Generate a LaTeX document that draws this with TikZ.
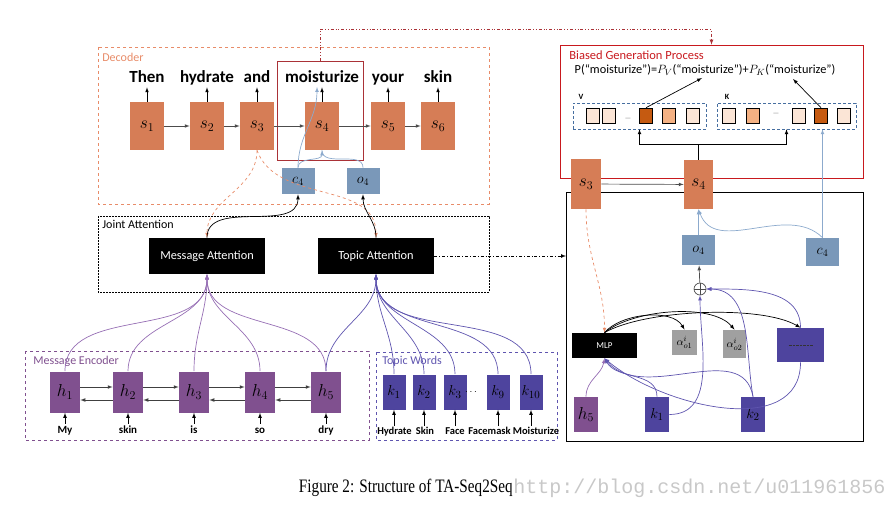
\documentclass[tikz,border=0pt]{standalone}
\usepackage{graphicx}
\usepackage{fontspec}
\setmainfont{Carlito}
\newfontfamily\capfont{Liberation Serif}
\newfontfamily\wmfont{Liberation Mono}
\usetikzlibrary{positioning,calc}

\definecolor{sorange}{RGB}{214,125,86}
\definecolor{cblue}{RGB}{122,152,185}
\definecolor{hpurple}{RGB}{128,80,143}
\definecolor{kblue}{RGB}{78,68,158}
\definecolor{decline}{RGB}{232,140,105}
\definecolor{boxred}{RGB}{170,50,55}
\definecolor{bgpred}{RGB}{200,25,30}
\definecolor{lineblue}{RGB}{140,170,205}
\definecolor{linepurple}{RGB}{150,110,180}
\definecolor{lineviolet}{RGB}{95,85,175}
\definecolor{sqlight}{RGB}{251,229,214}
\definecolor{sqmid}{RGB}{244,177,131}
\definecolor{sqdark}{RGB}{197,90,17}
\definecolor{dashblue}{RGB}{70,110,160}
\definecolor{agray}{RGB}{160,160,160}
\definecolor{wmgray}{RGB}{200,200,200}

\tikzset{
  sbox/.style={fill=sorange, minimum width=34pt, minimum height=48pt, inner sep=0pt, font=\fontsize{18}{18}\selectfont},
  cbox/.style={fill=cblue, minimum width=33pt, minimum height=26pt, inner sep=0pt, font=\fontsize{14}{14}\selectfont},
  hbox/.style={fill=hpurple, minimum width=30pt, minimum height=41pt, inner sep=0pt, font=\fontsize{17}{17}\selectfont},
  kbox/.style={fill=kblue, minimum width=23pt, minimum height=35pt, inner sep=0pt, font=\fontsize{15}{15}\selectfont},
  attbox/.style={fill=black, text=white, minimum width=116pt, minimum height=36pt, font=\fontsize{12.3}{12.3}\selectfont},
  word/.style={anchor=base, text depth=4pt, inner sep=0pt, font=\bfseries\fontsize{17}{17}\selectfont},
  inword/.style={text height=8pt, text depth=2pt, inner sep=1pt, font=\bfseries\fontsize{11}{11}\selectfont},
  tword/.style={text height=7pt, text depth=2pt, inner sep=1pt, font=\bfseries\fontsize{10.5}{10.5}\selectfont},
  grouplabel/.style={anchor=west, inner sep=0pt, font=\fontsize{12}{12}\selectfont},
  vkbox/.style={draw=dashblue, densely dashed, line width=0.6pt, minimum width=#1, minimum height=26pt},
  sq/.style={draw=black, line width=0.6pt, minimum width=13pt, minimum height=15pt, inner sep=0pt},
  abox/.style={fill=agray, minimum width=25pt, minimum height=25pt, inner sep=0pt, font=\fontsize{11}{11}\selectfont},
  oplus/.style={draw, circle, minimum size=12pt, inner sep=0pt,
    path picture={\draw (path picture bounding box.north) -- (path picture bounding box.south)
      (path picture bounding box.west) -- (path picture bounding box.east);}},
  bline/.style={lineblue},
  pline/.style={linepurple},
  vline/.style={lineviolet},
  odash/.style={decline, dashed},
}

\begin{document}
\begin{tikzpicture}[x=1pt,y=1pt,>=latex,line width=0.7pt]
\useasboundingbox (0,0) rectangle (893,-508);

% decoder
\draw[decline,dashed] (98,-47) rectangle (489,-204);
\node[grouplabel,text=decline] at (102,-57) {Decoder};
\node[draw=boxred,minimum width=86pt,minimum height=99pt] (rbox) at (320,-110.5) {};
\foreach \i/\x/\w in {1/147/Then,2/207/hydrate,3/257/and,4/322/moisturize,5/388/your,6/438/skin}{
  \node[sbox] (s\i) at (\x,-126) {$s_{\i}$};
  \node[word] (w\i) at (\x,-83) {\w};
  \draw[->] (s\i.north) -- (w\i.south);
}
\foreach \a/\b in {1/2,2/3,3/4,4/5,5/6}
  \draw[->,black!70] (s\a) -- (s\b);
\node[cbox] (c4) at (298,-181) {$c_4$};
\node[cbox] (o4) at (363,-181) {$o_4$};
\coordinate (m4) at (317,-87);
\draw[bline,->] (c4.north) to[out=90,in=-90] (m4);
\draw[bline,->] (c4.north) to[out=90,in=-90] (s4.south);
\draw[bline] (o4.north) to[out=90,in=-90] (s4.south);

% joint attention
\draw[dash pattern=on 2pt off 1pt] (98,-216) rectangle (489,-292);
\node[grouplabel] at (102,-224) {Joint Attention};
\node[attbox] (ma) at (207,-256) {Message Attention};
\node[attbox] (ta) at (376,-256) {Topic Attention};
\draw[odash,->] (s3.south) to[out=-90,in=90] (ma.north);
\draw[odash,->] (s3.south) to[out=-70,in=90] (ta.north);
\draw[->] (ma.north) to[out=90,in=-90] (c4.south);
\draw[->] (ta.north) to[out=90,in=-90] (o4.south);

% message encoder
\draw[hpurple,dashed] (25,-351) rectangle (369,-440);
\node[grouplabel,text=hpurple] at (33,-361) {Message Encoder};
\foreach \i/\x/\w in {1/65/My,2/128/skin,3/194/is,4/260/so,5/326/dry}{
  \node[hbox] (h\i) at (\x,-392) {$h_{\i}$};
  \node[inword] (e\i) at (\x,-430) {\w};
  \draw[->] (e\i.north) -- (h\i.south);
  \draw[pline,->] (h\i.north) to[out=90,in=-90] (ma.south);
}
\foreach \a/\b in {1/2,2/3,3/4,4/5}{
  \draw[->,black!75] ([yshift=5pt]h\a.east) -- ([yshift=5pt]h\b.west);
  \draw[->,black!75] ([yshift=-8pt]h\b.west) -- ([yshift=-8pt]h\a.east);
}

% topic words
\draw[lineviolet,dashed] (376,-352) rectangle (557,-440);
\node[grouplabel,text=lineviolet] at (382,-361) {Topic Words};
\foreach \i/\x/\n/\tx/\w in {1/394/1/394.5/Hydrate,2/424/2/425/Skin,3/455/3/455/Face,9/498/9/489.5/Facemask,10/531/10/536/Moisturize}{
  \node[kbox] (k\i) at (\x,-392) {$k_{\n}$};
  \node[tword] (t\i) at (\tx,-432) {\w};
  \draw[->] (t\i.north -| k\i.south) -- (k\i.south);
  \draw[vline,->] (k\i.north) to[out=90,in=-90] (ta.south);
}
\node[font=\bfseries] at (471,-392) {$\cdots$};
\draw[vline,->] (h5.north) to[out=90,in=-90] (ta.south);
\draw[dash dot,->] (ta.east) -- (566,-256);

% biased generation process
\node[draw=bgpred,minimum width=303pt,minimum height=133pt] (bgp) at (711.5,-111.5) {};
\node[grouplabel,text=bgpred,font=\fontsize{12.5}{12.5}\selectfont] at (569,-55) {Biased Generation Process};
\node[inner sep=0pt,font=\fontsize{12.3}{12.3}\selectfont] (pf) at (705,-70)
  {P(“moisturize”)=$P_V$(“moisturize”)+$P_K$(“moisturize”)};
\draw[boxred,dash dot dot,->] (rbox.north) -- ++(0,31) -| (bgp.north);
\node[vkbox=133pt] (vbox) at (639.5,-116) {};
\node[vkbox=139pt] (kbox) at (786.5,-116) {};
\node[font=\bfseries\fontsize{8}{8}\selectfont] at (581,-97) {V};
\node[font=\bfseries\fontsize{8}{8}\selectfont] at (727,-97) {K};
\foreach \n/\x/\c in {v1/592.5/sqlight,v2/609/sqlight,v3/646/sqdark,v4/669/sqmid,v5/692.5/sqlight,
                      k1/728.5/sqlight,k2/752.5/sqmid,k3/799/sqlight,k4/821/sqdark,k5/843.5/sqlight}
  \node[sq,fill=\c] (\n) at (\x,-115.5) {};
\node[text=gray,font=\fontsize{7}{7}\selectfont] at (628,-119) {---};
\node[text=gray,font=\fontsize{7}{7}\selectfont] at (776,-114) {---};
\coordinate (pv) at (702,-78);
\coordinate (pk) at (793,-79);
\draw[->] (v3.north) -- (pv);
\draw[->] (k4.north) -- (pk);

% topic attention detail
\node[draw,minimum width=297pt,minimum height=249pt] (rpanel) at (714.5,-316.5) {};
\node[sbox,minimum width=30pt,minimum height=50pt] (s3r) at (586,-184) {$s_3$};
\node[sbox,minimum width=29pt,minimum height=49pt] (s4r) at (698.5,-184.5) {$s_4$};
\draw[->,black!70] (s3r) -- (s4r);
\draw (s4r.north) -- ++(0,15) coordinate (br);
\draw[->] (br) -| (vbox.south);
\draw[->] (br) -| (kbox.south);
\node[cbox,minimum height=30pt] (o4r) at (698.5,-250) {$o_4$};
\node[cbox,minimum height=28pt] (c4r) at (822.5,-252) {$c_4$};
\draw[bline,->] (o4r) -- (s4r);
\draw[bline,->] (c4r.north) to[out=135,in=-70] (s4r.south);
\draw[bline,->] (c4r.north) -- (c4r.north |- kbox.south);
\node[oplus,black!70] (op) at (700,-289) {};
\draw[->,black!70] (op) -- (o4r);
\node[fill=black,text=white,minimum width=65pt,minimum height=25pt,font=\fontsize{9}{9}\selectfont] (mlp) at (604.5,-345.5) {MLP};
\node[abox] (a1) at (684.5,-342.5) {$\alpha^{i}_{o1}$};
\node[abox,minimum width=23pt,minimum height=28pt] (a2) at (734.5,-344) {$\alpha^{i}_{o2}$};
\node[fill=kblue,minimum width=47pt,minimum height=34pt] (db) at (800.5,-345) {};
\draw[black!80,line width=0.3pt,dash pattern=on 1pt off 0.4pt] ([xshift=-12pt]db.center) -- ([xshift=12pt]db.center);
\node[hbox,minimum width=24pt,minimum height=35pt] (h5r) at (586,-414.5) {$h_5$};
\node[kbox,minimum width=24pt] (k1r) at (657,-414.5) {$k_1$};
\node[kbox,minimum width=24pt] (k2r) at (753,-414.5) {$k_2$};
\draw[odash,->] (s3r.south) to[out=-90,in=90] (mlp.north);
\draw[->] (mlp.north) to[out=50,in=120,looseness=0.8] (a1.north);
\draw[->] (mlp.north) to[out=40,in=130,looseness=0.7] (a2.north);
\draw[->] (mlp.north) to[out=30,in=150,looseness=0.6] (db.north);
\draw[pline,->] (h5r.north) to[out=90,in=-100] (mlp.south);
\draw[vline,->] (k1r.north) to[out=90,in=-60] (mlp.south);
\draw[vline,->] (k2r.north) to[out=100,in=-50] (mlp.south);
\draw[vline,->] (db.south) to[out=-90,in=-40] (mlp.south);
\draw[vline,->] (k1r.east) to[out=0,in=-90] (op.south);
\draw[vline,->] (k2r.north) to[out=100,in=0] (op.east);
\draw[vline,->] (db.north) to[out=90,in=0] (op.east);

% caption
\node[inner sep=0pt,anchor=east,font=\capfont\fontsize{19}{19}\selectfont] (cap) at (513,-488)
  {\scalebox{0.8}[1]{Figure 2: Structure of TA-Seq2Seq}};
\node[inner sep=0pt,anchor=west,text=wmgray,font=\wmfont\fontsize{20}{20}\selectfont] at (cap.east)
  {http://blog.csdn.net/u011961856};
\end{tikzpicture}
\end{document}
